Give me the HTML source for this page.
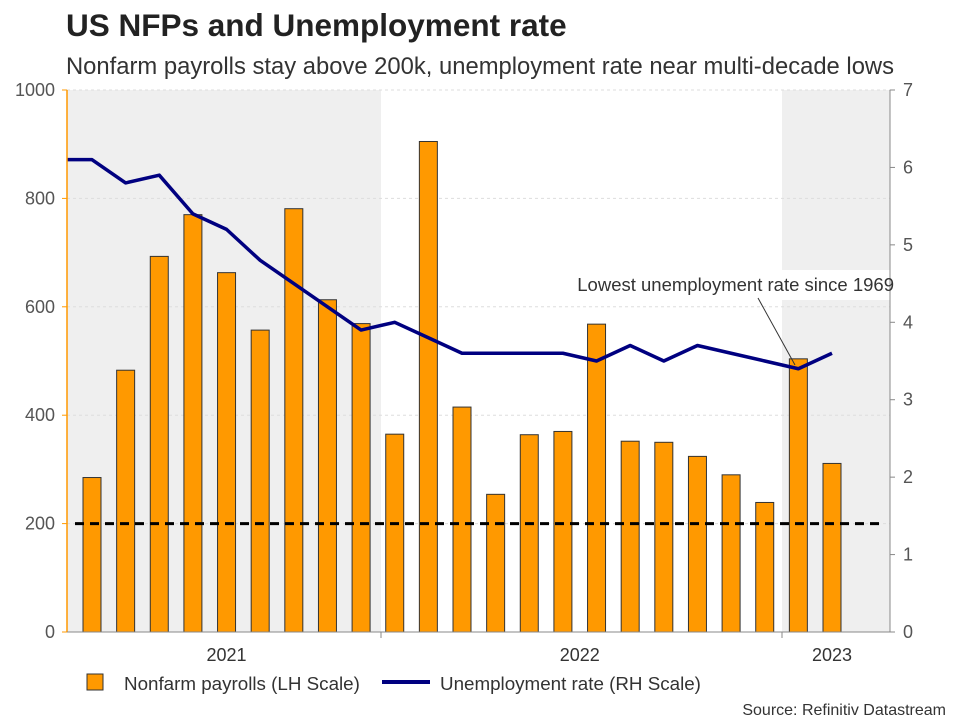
<!DOCTYPE html>
<html><head><meta charset="utf-8"><style>
body{margin:0;background:#fff;font-family:"Liberation Sans",sans-serif;}
</style></head><body>
<svg width="960" height="720" xmlns="http://www.w3.org/2000/svg" id="chart" font-family="Liberation Sans, sans-serif">
<text x="66" y="36" font-size="31.5" font-weight="bold" fill="#222">US NFPs and Unemployment rate</text>
<text x="66" y="74" font-size="23.8" fill="#333">Nonfarm payrolls stay above 200k, unemployment rate near multi-decade lows</text>
<g id="shade"></g><g id="grid"></g><g id="bars"></g><g id="line"></g><g id="axes"></g>
<g>
<text x="894" y="291" font-size="18.5" fill="#333" text-anchor="end">Lowest unemployment rate since 1969</text>
<line x1="758" y1="298" x2="795" y2="365" stroke="#333" stroke-width="1"/>
</g>
<g>
<rect x="87" y="674" width="16" height="16" fill="#ff9900" stroke="#333"/>
<text x="124" y="690" font-size="18.8" fill="#333">Nonfarm payrolls (LH Scale)</text>
<line x1="382" y1="682" x2="430" y2="682" stroke="#000080" stroke-width="4"/>
<text x="440" y="690" font-size="18.8" fill="#333">Unemployment rate (RH Scale)</text>
</g>
<text x="946" y="715" font-size="16" fill="#333" text-anchor="end">Source: Refinitiv Datastream</text>
</svg>
<script>
const nfpValues=[285,483,693,770,663,557,781,613,569,365,905,415,254,364,370,568,352,350,324,290,239,504,311];
const unempValues=[6.1,5.8,5.9,5.4,5.2,4.8,4.5,4.2,3.9,4.0,3.8,3.6,3.6,3.6,3.6,3.5,3.7,3.5,3.7,3.6,3.5,3.4,3.6];
const leftTicks=[0,200,400,600,800,1000];
const rightTicks=[0,1,2,3,4,5,6,7];
const yearLabels=["2021","2022","2023"];
const yearIdx=[4,14.5,22];
const threshold=200;
const NS="http://www.w3.org/2000/svg";
const L=67,R=890,T=90,B=632;
const x0=92,step=(832-92)/22;
const xs=i=>x0+i*step;
const yl=v=>B-(v/1000)*(B-T);
const yr=v=>B-(v/7)*(B-T);
function mk(p,tag,a){const e=document.createElementNS(NS,tag);for(const k in a)e.setAttribute(k,a[k]);document.getElementById(p).appendChild(e);return e;}
let s=mk('shade','rect',{x:L,y:T,width:381-L,height:B-T,fill:'#efefef'});


s=mk('shade','rect',{x:782,y:T,width:R-782,height:270-T,fill:'#efefef'});


s=mk('shade','rect',{x:782,y:300,width:R-782,height:B-300,fill:'#efefef'});


leftTicks.forEach(v=>{
 const g=mk('grid','line',{x1:L,x2:R,y1:yl(v),y2:yl(v),stroke:'#ddd','stroke-dasharray':'3,3'});
 
 
 const t=mk('axes','text',{x:55,y:yl(v)+6,'font-size':18,fill:'#555','text-anchor':'end'});t.textContent=v;
 
 
 mk('axes','line',{x1:L-5,x2:L,y1:yl(v),y2:yl(v),stroke:'#f90'});
});
rightTicks.forEach(v=>{
 const t=mk('axes','text',{x:903,y:yr(v)+6,'font-size':18,fill:'#555'});t.textContent=v;
 
 
 mk('axes','line',{x1:R,x2:R+5,y1:yr(v),y2:yr(v),stroke:'#888'});
});
nfpValues.forEach((v,i)=>{
 const b=mk('bars','rect',{x:xs(i)-9,y:yl(v),width:18,height:B-yl(v),fill:'#ff9900',stroke:'#333','stroke-width':1});
 
 
});
const d=mk('bars','line',{x1:75,x2:882,y1:yl(threshold),y2:yl(threshold),stroke:'#000','stroke-width':3,'stroke-dasharray':'9,6'});


let pts=[[L,yr(unempValues[0])]].concat(unempValues.map((v,i)=>[xs(i),yr(v)]));
const pl=mk('line','polyline',{points:pts.map(p=>p.join(',')).join(' '),fill:'none',stroke:'#000080','stroke-width':3.5,'stroke-linejoin':'round'});


let a=mk('axes','line',{x1:L,x2:L,y1:T,y2:B,stroke:'#f90','stroke-width':1.5});


a=mk('axes','line',{x1:R,x2:R,y1:T,y2:B,stroke:'#888'});


a=mk('axes','line',{x1:L,x2:R,y1:B,y2:B,stroke:'#888'});


[381,782].forEach(x=>mk('axes','line',{x1:x,x2:x,y1:B,y2:B+6,stroke:'#888'}));
yearLabels.forEach((y,i)=>{
 const t=mk('axes','text',{x:xs(yearIdx[i]),y:661,'font-size':18,fill:'#333','text-anchor':'middle'});t.textContent=y;
 
 
});
</script>
</body></html>
